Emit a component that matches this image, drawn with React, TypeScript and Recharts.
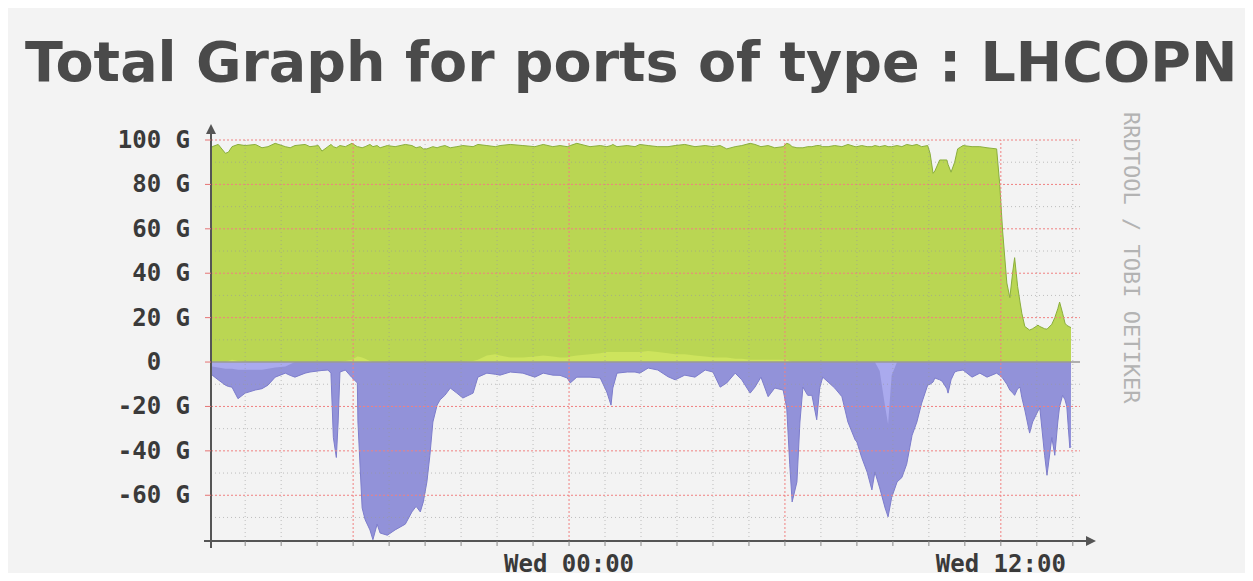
import { AreaChart, Area, XAxis, YAxis, ReferenceLine } from "recharts";

// minutes relative to Wed 00:00
const times = [
  -597, -595, -585, -573, -568, -562, -552, -540, -523, -512, -502, -490, -473, -465, -457, -440,
  -432, -418, -412, -402, -397, -393, -388, -385, -382, -373, -362, -353, -352, -345, -340, -332,
  -327, -320, -315, -303, -290, -273, -262, -255, -248, -243, -237, -232, -227, -220, -215, -207,
  -198, -187, -177, -160, -152, -137, -123, -115, -98, -77, -57, -43, -27, -15, -3, 2,
  13, 35, 52, 63, 70, 73, 80, 97, 110, 118, 132, 148, 165, 177, 193, 210,
  227, 240, 252, 263, 277, 288, 302, 310, 320, 332, 343, 357, 363, 368, 372, 380,
  385, 390, 398, 405, 413, 418, 423, 432, 443, 455, 465, 477, 480, 488, 497, 505,
  510, 518, 527, 532, 538, 547, 555, 563, 572, 580, 588, 598, 602, 607, 610, 618,
  622, 630, 632, 637, 643, 648, 657, 672, 685, 697, 713, 718, 723, 730, 735, 740,
  743, 748, 752, 755, 760, 768, 773, 782, 785, 793, 797, 805, 810, 815, 818, 823,
  827, 830, 835, 837,
];

// inbound total (G)
const inTotal = [
  96, 97, 98, 94, 94.5, 97, 98, 97.5, 98, 96.5, 97, 98.5, 97, 96.5, 97.5, 98,
  97, 97.5, 95, 97, 98, 97, 96.5, 97, 97.5, 97, 98.5, 97, 97, 96.5, 97, 98,
  97, 97.5, 96.5, 97.5, 97, 98, 97.5, 96.5, 97, 96, 96, 96.5, 97, 96.5, 97, 97.5,
  96.5, 97, 97.5, 97, 98, 97.5, 97, 97.5, 98, 97.5, 97, 98, 97, 97.5, 97, 97.5,
  98.5, 97, 97.5, 97, 97.5, 98, 97, 97.5, 97, 98, 97.5, 97, 97, 97.5, 98, 97,
  97.5, 97, 97.5, 96, 97, 97.5, 98.5, 98, 97, 97.5, 96.5, 97, 98.5, 98, 97, 96.5,
  96.5, 96.5, 97, 97, 97.5, 97.5, 97, 97, 97.5, 97, 98, 97, 97, 97.5, 97, 97,
  97.5, 97, 97.5, 97, 97, 97.5, 97, 98, 97.5, 98, 97, 97.5, 94, 85, 86, 91,
  91, 91, 89, 85.5, 90, 96, 97.5, 97, 97, 96.5, 96, 80.5, 59, 35.6, 29, 41,
  47, 34, 27, 22, 16, 14.4, 15, 16.6, 16, 15, 14.8, 17, 20, 24, 27, 22,
  17.5, 16.5, 15.8, 15.5,
];

// inbound light component (G)
const inLight = [
  0, 0, 0, 0, 0.5, 1, 0.5, 0, 0, 0, 0, 0, 0, 0, 0, 0,
  0, 0, 0, 0, 0, 0, 0, 0, 0, 0.5, 1, 2.5, 2.5, 2, 1.5, 0.5,
  0, 0, 0, 0, 0, 0, 0, 0, 0, 0, 0, 0, 0, 0, 0, 0,
  0, 0, 0, 0.5, 1, 3, 3.5, 3, 2, 2, 2.5, 3, 2.5, 2, 2, 2.5,
  3, 3.5, 4, 4.5, 4.5, 4.5, 4.5, 4.5, 4.5, 4.5, 5, 4.5, 4, 3.5, 3.5, 3,
  2.5, 2, 2, 2, 1.5, 1.5, 1, 1, 1, 1, 1, 1, 1, 0.5, 0, 0,
  0, 0, 0, 0, 0, 0, 0, 0, 0, 0, 0, 0, 0, 0, 0, 0,
  0, 0, 0, 0, 0, 0, 0, 0, 0, 0, 0, 0, 0, 0, 0, 0,
  0, 0, 0, 0, 0, 0, 0, 0, 0, 0, 0, 0, 0, 0, 0, 0,
  0, 0, 0, 0, 0, 0, 0, 0, 0, 0, 0, 0, 0, 0, 0, 0,
  0, 0, 0, 0,
];

// outbound total (G, drawn negative)
const outTotal = [
  -5.5, -5.9, -8, -10.4, -11, -11.3, -16.5, -14, -12.6, -12, -10.4, -6.8, -5, -6, -6.8, -5,
  -4.5, -4, -3.8, -3.6, -5, -34, -43, -27, -4.5, -3.6, -7, -9.4, -27, -65.7, -71, -75.6,
  -80, -73, -77, -78, -75.6, -73, -67.5, -65, -67.5, -63, -54, -42, -27, -19.4, -17, -15,
  -11.7, -14, -16.2, -14, -6.8, -5, -5.5, -5.9, -4.5, -5, -6.8, -5, -5.9, -6, -7.2, -9.4,
  -6.8, -6.8, -7.2, -13.5, -19.4, -11.7, -5, -4.5, -4.5, -5, -2.7, -3.6, -6.6, -8, -5.9, -6.8,
  -3.6, -4.5, -11.3, -9.4, -5, -8, -14, -11.3, -6.8, -15.6, -11.7, -12.6, -20.7, -46, -63, -54,
  -27, -11.3, -15, -15, -26, -11.7, -6.8, -9, -11.7, -15.6, -27, -35, -36, -43, -49.5, -57.6,
  -49.5, -56.7, -65.7, -69.7, -61, -54, -52, -46, -33, -27, -18.5, -10.4, -10, -9, -7.2, -8,
  -8.6, -12, -14, -8, -4.5, -4, -3.6, -6.8, -5, -6.8, -5, -6, -7.2, -10, -12.6, -14,
  -15, -12, -11.3, -16, -21.6, -32, -27, -22, -20.7, -42, -51, -34, -42, -27, -20, -15,
  -17, -20, -38.7, -38,
];

// outbound light component (G, drawn negative)
const outLight = [
  -2, -2, -2.5, -3, -3, -3, -3.5, -3.5, -3.5, -3.5, -3, -2.5, -2, -1, 0, 0,
  0, 0, 0, 0, 0, 0, 0, 0, 0, 0, 0, 0, 0, 0, 0, 0,
  0, 0, 0, 0, 0, 0, 0, 0, 0, 0, 0, 0, 0, 0, 0, 0,
  0, 0, 0, 0, 0, 0, 0, 0, 0, 0, 0, 0, 0, 0, 0, 0,
  0, 0, 0, 0, 0, 0, 0, 0, 0, 0, 0, 0, 0, 0, 0, 0,
  0, 0, 0, 0, 0, 0, 0, 0, 0, 0, 0, 0, 0, 0, 0, 0,
  0, 0, 0, 0, 0, 0, 0, 0, 0, 0, 0, 0, 0, 0, 0, 0,
  0, -4, -20, -28, -6, 0, 0, 0, 0, 0, 0, 0, 0, 0, 0, 0,
  0, 0, 0, 0, 0, 0, 0, 0, 0, 0, 0, 0, 0, 0, 0, 0,
  0, 0, 0, 0, 0, 0, 0, 0, 0, 0, 0, 0, 0, 0, 0, 0,
  0, 0, 0, 0,
];

const yTicks = [-60, -40, -20, 0, 20, 40, 60, 80, 100];
const yMajorGrid = [-60, -40, -20, 20, 40, 60, 80, 100];
const yMinorGrid = [-70, -50, -30, -10, 10, 30, 50, 70, 90];
const xTicks = [-540, -480, -420, -360, -300, -240, -180, -120, -60, 0, 60, 120, 180, 240, 300, 360, 420, 480, 540, 600, 660, 720, 780, 840];
const xMajorGrid = [-360, 0, 360, 720];
const xMinorGrid = xTicks.filter((t) => !xMajorGrid.includes(t));
const xLabels: Record<number, string> = { 0: "Wed 00:00", 720: "Wed 12:00" };

const data = times.map((t, i) => ({
  t,
  inTotal: inTotal[i],
  inLight: inLight[i],
  outTotal: outTotal[i],
  outLight: outLight[i],
}));

const MONO = "'DejaVu Sans Mono', monospace";

function YTick({ x, y, payload }: any) {
  const v = payload.value;
  const label = v === 0 ? "0  " : `${v} G`;
  return (
    <text x={x} y={y} dy={8} textAnchor="end" xmlSpace="preserve" fill="#3a3a3a" fontFamily={MONO} fontWeight="bold" fontSize={24}>
      {label}
    </text>
  );
}

function XTick({ x, y, payload }: any) {
  const label = xLabels[payload.value];
  if (!label) return null;
  return (
    <text x={x} y={y} dy={24} textAnchor="middle" fill="#3a3a3a" fontFamily={MONO} fontWeight="bold" fontSize={24}>
      {label}
    </text>
  );
}

export default function App() {
  return (
    <div style={{ position: "relative", width: 1253, height: 581, margin: -8, background: "#f3f3f3", overflow: "hidden" }}>
      <div
        style={{
          position: "absolute",
          left: 25,
          top: 27,
          fontFamily: "'DejaVu Sans', Verdana, sans-serif",
          fontWeight: "bold",
          fontSize: 55.5,
          color: "#4a4a4a",
          whiteSpace: "nowrap",
          lineHeight: "70px",
        }}
      >
        Total Graph for ports of type : LHCOPN
      </div>
      <div
        style={{
          position: "absolute",
          left: 1141,
          top: 112,
          transformOrigin: "left top",
          transform: "rotate(90deg)",
          fontFamily: MONO,
          fontSize: 22,
          color: "#b3b3b3",
          whiteSpace: "nowrap",
          lineHeight: "20px",
        }}
      >
        RRDTOOL / TOBI OETIKER
      </div>
      <div style={{ position: "absolute", left: 0, top: 0 }}>
        <AreaChart width={1253} height={581} data={data} margin={{ top: 140, right: 173, bottom: 5, left: 111 }}>
          <defs>
            <marker id="arrowHead" markerUnits="userSpaceOnUse" markerWidth={22} markerHeight={14} refX={0} refY={7} viewBox="0 0 22 14" orient="auto-start-reverse">
              <path d="M0 7 L8 7" stroke="#555" strokeWidth={2} />
              <path d="M6 2 L16 7 L6 12 Z" fill="#555" />
            </marker>
            <marker id="stub" markerUnits="userSpaceOnUse" markerWidth={10} markerHeight={4} refX={0} refY={2} viewBox="0 0 10 4" orient="auto-start-reverse">
              <path d="M0 2 L7 2" stroke="#555" strokeWidth={2} />
            </marker>
          </defs>
          <XAxis
            dataKey="t"
            type="number"
            domain={[-597, 852]}
            ticks={xTicks}
            interval={0}
            tick={<XTick />}
            tickSize={5}
            tickLine={{ stroke: "#888" }}
            axisLine={{ stroke: "#555", strokeWidth: 2, markerEnd: "url(#arrowHead)", markerStart: "url(#stub)" }}
            height={35}
          />
          <YAxis
            type="number"
            domain={[-80.6, 100]}
            ticks={yTicks}
            interval={0}
            tick={<YTick />}
            tickSize={6}
            tickMargin={15}
            tickLine={{ stroke: "#e57373" }}
            axisLine={{ stroke: "#555", strokeWidth: 2, markerStart: "url(#arrowHead)", markerEnd: "url(#stub)" }}
            width={100}
            allowDataOverflow
          />
          <Area type="linear" dataKey="inTotal" stroke="#8aae3c" strokeWidth={1} fill="#bad653" fillOpacity={1} isAnimationActive={false} />
          <Area type="linear" dataKey="inLight" stroke="none" fill="#cde45d" fillOpacity={1} isAnimationActive={false} />
          <Area type="linear" dataKey="outTotal" stroke="#7d7dcc" strokeWidth={1} fill="#9292d9" fillOpacity={1} isAnimationActive={false} />
          <Area type="linear" dataKey="outLight" stroke="none" fill="#aaaaee" fillOpacity={1} isAnimationActive={false} />
          {yMinorGrid.map((v) => (
            <ReferenceLine key={`ym${v}`} y={v} stroke="#999" strokeOpacity={0.6} strokeDasharray="1 3" />
          ))}
          {yMajorGrid.map((v) => (
            <ReferenceLine key={`yM${v}`} y={v} stroke="#f08080" strokeDasharray="2 2" />
          ))}
          {xMinorGrid.map((v) => (
            <ReferenceLine key={`xm${v}`} x={v} stroke="#999" strokeOpacity={0.6} strokeDasharray="1 3" />
          ))}
          {xMajorGrid.map((v) => (
            <ReferenceLine key={`xM${v}`} x={v} stroke="#f08080" strokeDasharray="2 2" />
          ))}
          <ReferenceLine y={0} stroke="#999" strokeWidth={1.5} />
        </AreaChart>
      </div>
    </div>
  );
}
